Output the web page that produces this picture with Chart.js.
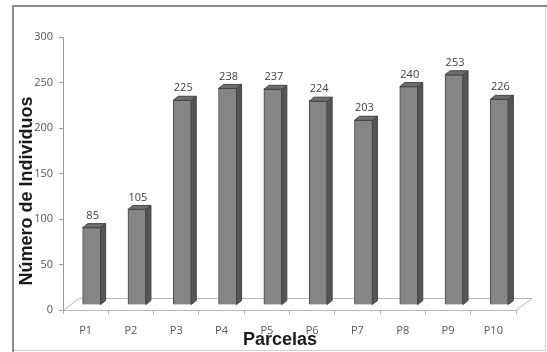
<!DOCTYPE html>
<html>
<head>
<meta charset="utf-8">
<script src="https://cdn.jsdelivr.net/npm/chart.js@4/dist/chart.umd.min.js"></script>
<style>
  html, body { margin: 0; padding: 0; background: #fff; }
  #wrap { position: relative; width: 547px; height: 352px; }
</style>
</head>
<body>
<div id="wrap"><canvas id="parcelasChart" width="547" height="352"></canvas></div>
<script>
// data
const parcelas = ['P1', 'P2', 'P3', 'P4', 'P5', 'P6', 'P7', 'P8', 'P9', 'P10'];
const individuos = [85, 105, 225, 238, 237, 224, 203, 240, 253, 226];
const yTicks = [0, 50, 100, 150, 200, 250, 300];

const tickFont = { family: "'Open Sans', 'Liberation Sans', sans-serif", size: 11 };
const titleFont = "bold 18px 'Liberation Sans', Arial, sans-serif";

// 3D look: bars shifted back into the floor, plus side and top faces
const shiftX = 6, shiftY = -5;
const depthX = 5, depthY = -4;

const bars3d = {
    id: 'bars3d',
    beforeDatasetsDraw(chart) {
        const ctx = chart.ctx;
        const a = chart.chartArea;
        // floor
        ctx.save();
        ctx.strokeStyle = '#b8b8b8';
        ctx.lineWidth = 1;
        ctx.beginPath();
        ctx.moveTo(a.left, a.bottom + 0.5);
        ctx.lineTo(a.left + 16, a.bottom - 11.5);
        ctx.lineTo(a.right + 16, a.bottom - 11.5);
        ctx.lineTo(a.right, a.bottom + 0.5);
        ctx.stroke();
        ctx.restore();

        ctx.save();
        ctx.translate(shiftX, shiftY);
    },
    afterDatasetsDraw(chart) {
        const ctx = chart.ctx;
        const meta = chart.getDatasetMeta(0);
        meta.data.forEach((bar, i) => {
            const p = bar.getProps(['x', 'y', 'base', 'width'], true);
            const l = p.x - p.width / 2, r = p.x + p.width / 2;
            // side face
            ctx.beginPath();
            ctx.moveTo(r, p.y);
            ctx.lineTo(r + depthX, p.y + depthY);
            ctx.lineTo(r + depthX, p.base + depthY);
            ctx.lineTo(r, p.base);
            ctx.closePath();
            ctx.fillStyle = '#555555';
            ctx.fill();
            ctx.strokeStyle = '#444';
            ctx.lineWidth = 1;
            ctx.stroke();
            // top face
            ctx.beginPath();
            ctx.moveTo(l, p.y);
            ctx.lineTo(l + depthX, p.y + depthY);
            ctx.lineTo(r + depthX, p.y + depthY);
            ctx.lineTo(r, p.y);
            ctx.closePath();
            ctx.fillStyle = '#6e6e6e';
            ctx.fill();
            ctx.stroke();
            // value label
            ctx.fillStyle = '#404040';
            ctx.font = tickFont.size + 'px ' + tickFont.family;
            ctx.textAlign = 'center';
            ctx.textBaseline = 'middle';
            ctx.fillText(String(individuos[i]), p.x + 1, p.y - 12);
        });
        ctx.restore();
    },
    afterDraw(chart) {
        const ctx = chart.ctx;
        ctx.save();
        // frame
        ctx.strokeStyle = '#d0d0d0';
        ctx.lineWidth = 1;
        ctx.strokeRect(13.5, 6.5, 532, 344);
        ctx.fillStyle = '#8c8c8c';
        ctx.fillRect(12, 5, 535, 2);
        ctx.fillRect(12, 5, 2, 347);
        // axis titles
        ctx.fillStyle = '#1a1a1a';
        ctx.font = titleFont;
        ctx.textAlign = 'center';
        ctx.textBaseline = 'middle';
        ctx.fillText('Parcelas', 280, 340);
        ctx.translate(27, 191);
        ctx.rotate(-Math.PI / 2);
        ctx.fillText('Número de Individuos', 0, 0);
        ctx.restore();
    }
};

new Chart(document.getElementById('parcelasChart'), {
    type: 'bar',
    data: {
        labels: parcelas,
        datasets: [{
            data: individuos,
            backgroundColor: '#858585',
            borderColor: '#4a4a4a',
            borderWidth: 1,
            barThickness: 18
        }]
    },
    options: {
        responsive: false,
        animation: false,
        layout: { padding: { top: 37, right: 31, bottom: 0, left: 0 } },
        plugins: {
            legend: { display: false },
            tooltip: { enabled: false }
        },
        scales: {
            y: {
                min: 0,
                max: 300,
                afterFit(scale) { scale.width = 63; },
                afterBuildTicks(scale) { scale.ticks = yTicks.map(v => ({ value: v })); },
                ticks: { font: tickFont, color: '#555', padding: 6 },
                grid: { drawOnChartArea: false, tickLength: 4, color: '#9a9a9a' },
                border: { display: true, color: '#9a9a9a' }
            },
            x: {
                afterFit(scale) { scale.height = 42; },
                ticks: { font: tickFont, color: '#555', padding: 10 },
                grid: { offset: true, drawOnChartArea: false, tickLength: 4, color: '#b0b0b0' },
                border: { display: true, color: '#b8b8b8' }
            }
        }
    },
    plugins: [bars3d]
});
</script>
</body>
</html>
